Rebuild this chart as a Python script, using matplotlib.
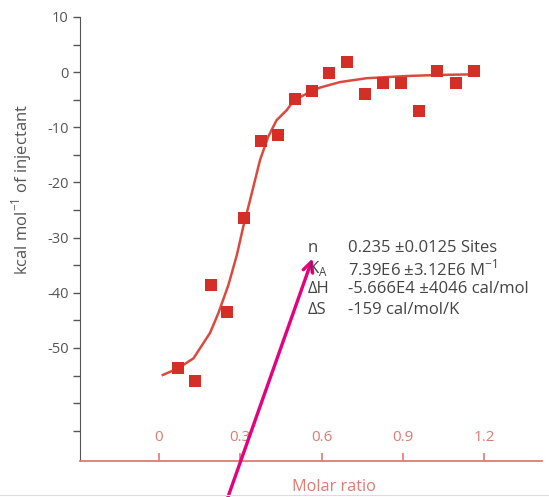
import matplotlib
matplotlib.use("Agg")
import matplotlib.pyplot as plt
import numpy as np

plt.rcParams['font.family'] = ['Open Sans', 'DejaVu Sans']

# injection data (molar ratio, kcal/mol of injectant)
ratio = [0.070, 0.131, 0.191, 0.252, 0.312, 0.376, 0.438, 0.500, 0.565, 0.629,
         0.693, 0.760, 0.826, 0.892, 0.960, 1.027, 1.095, 1.163]
heat = [-53.7, -56.0, -38.5, -43.5, -26.5, -12.4, -11.4, -4.9, -3.4, -0.1,
        1.9, -4.0, -2.0, -2.0, -7.0, 0.2, -1.9, 0.3]

# fitted curve
fit_x = [0.014, 0.070, 0.127, 0.188, 0.219, 0.256, 0.287, 0.311, 0.336, 0.373,
         0.403, 0.434, 0.471, 0.498, 0.545, 0.594, 0.668, 0.766, 0.914, 1.037, 1.160]
fit_y = [-54.9, -53.7, -51.9, -47.3, -43.7, -38.6, -33.2, -28.0, -23.2, -15.9,
         -11.7, -8.7, -6.9, -5.1, -3.9, -2.8, -1.8, -1.1, -0.7, -0.5, -0.4]

xticks = [0, 0.3, 0.6, 0.9, 1.2]
xticklabels = ['0', '0.3', '0.6', '0.9', '1.2']
yticks = [10, 0, -10, -20, -30, -40, -50]

params = [('n', '0.235 ±0.0125 Sites'),
          ('K$_\\mathregular{A}$', '7.39E6 ±3.12E6 M$^{\\mathregular{-1}}$'),
          ('ΔH', '-5.666E4 ±4046 cal/mol'),
          ('ΔS', '-159 cal/mol/K')]

salmon = '#e07a72'
grey = '#555555'
red = '#d42f27'

fig = plt.figure(figsize=(5.49, 4.97), dpi=100)
ax = fig.add_axes([0.1457, 0.0724, 0.8415, 0.8934])

ax.plot(fit_x, fit_y, color='#da4a3f', lw=1.8, zorder=2)
ax.plot(ratio, heat, 's', color=red, ms=8, mew=0, zorder=3)

ax.set_xlim(-0.2915, 1.413)
ax.set_ylim(-70.5, 10)

for s in ['top', 'right']:
    ax.spines[s].set_visible(False)
ax.spines['left'].set_color(grey)
ax.spines['bottom'].set_color(salmon)
ax.spines['bottom'].set_linewidth(1.3)

ax.set_yticks(yticks)
ax.set_yticklabels([str(v) for v in yticks])
ax.set_yticks(np.arange(-65, 10, 5), minor=True)
ax.tick_params(axis='y', which='both', colors=grey, length=5, width=1,
               labelsize=10.5, pad=3)

ax.set_xticks(xticks)
ax.set_xticklabels([])
ax.tick_params(axis='x', direction='in', colors=salmon, length=6, width=1.2)
for xv, lab in zip(xticks, xticklabels):
    ax.text(xv, 0.054, lab, transform=ax.get_xaxis_transform(), ha='center',
            va='center', color=salmon, fontsize=11)

ax.set_ylabel('kcal mol$^{\\mathregular{-1}}$ of injectant', color=grey, fontsize=12)
ax.yaxis.set_label_coords(-0.100, 0.612)
ax.set_xlabel('Molar ratio', color=salmon, fontsize=11.7)
ax.xaxis.set_label_coords(0.5 + 23 / 462, -0.040)

# fit parameters
for i, (name, val) in enumerate(params):
    fig.text(0.561, 0.501 - i * 0.0415, name, color='#444444', fontsize=12,
             va='center', ha='left')
    fig.text(0.634, 0.501 - i * 0.0415, val, color='#444444', fontsize=12,
             va='center', ha='left')

# pointer arrow
ax.annotate('', xy=(0.57, -33.3), xytext=(0.251, -77.5),
            arrowprops=dict(arrowstyle='->', color='#e5007e', lw=2.4,
                            mutation_scale=18),
            annotation_clip=False)

fig.add_artist(plt.Line2D([0.0, 1.0], [0.004, 0.004], color='#dddddd', lw=0.8))

fig.savefig('out.png', dpi=100)
